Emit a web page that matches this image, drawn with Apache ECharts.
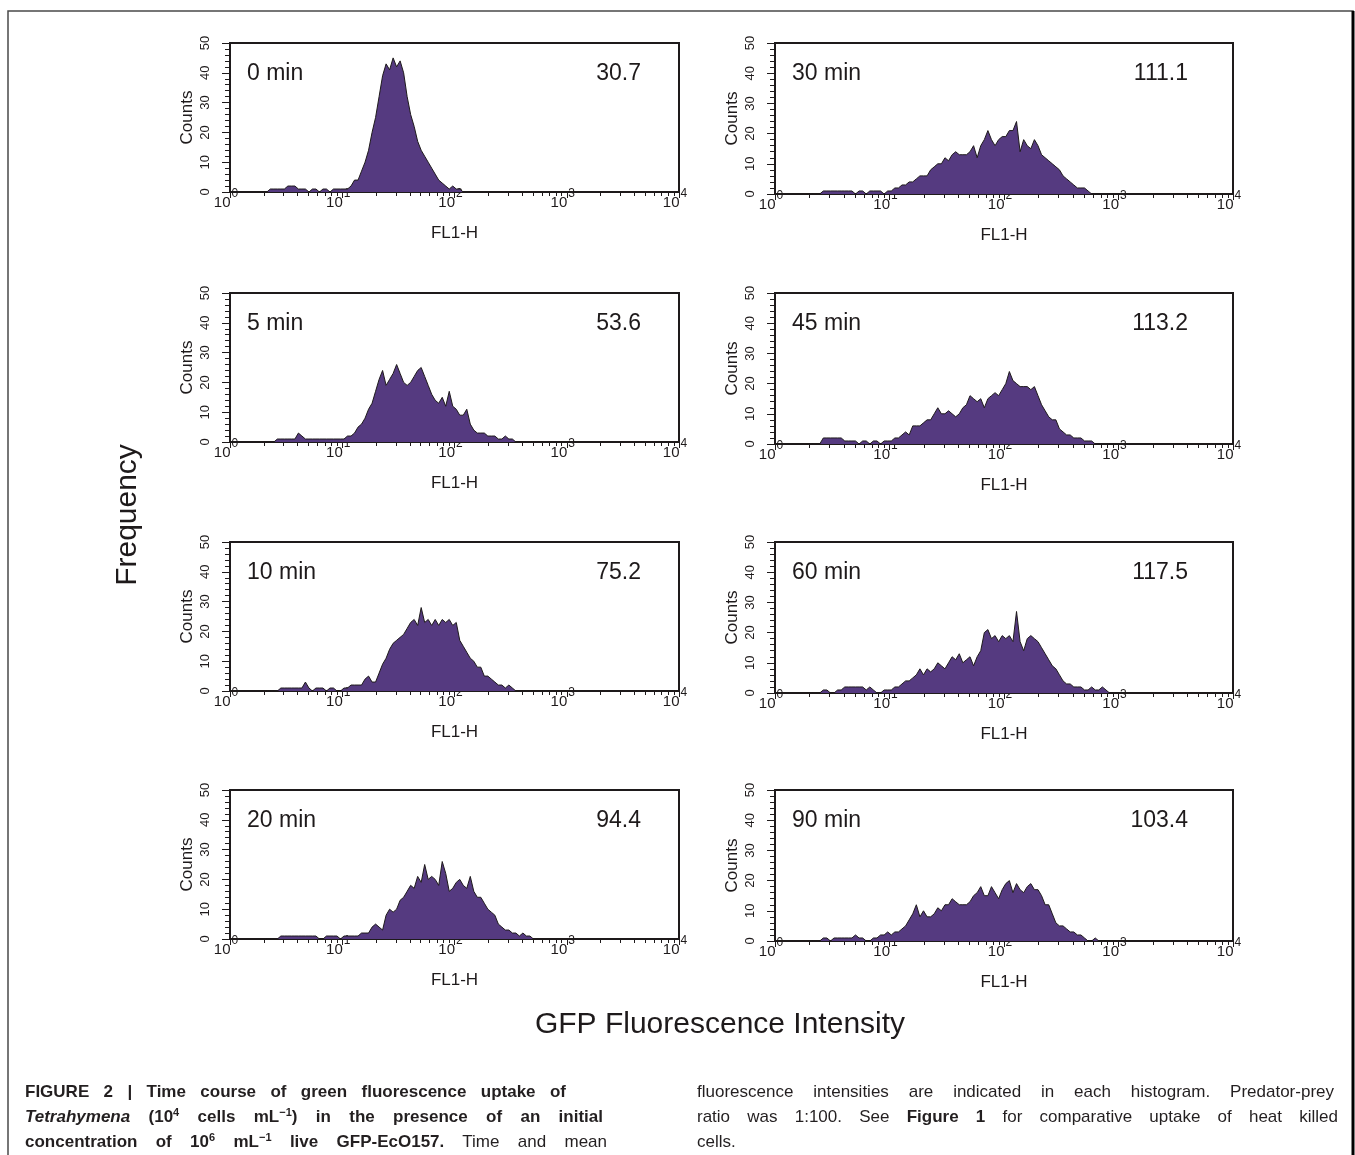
<!DOCTYPE html>
<html>
<head>
<meta charset="utf-8">
<script src="https://cdn.jsdelivr.net/npm/echarts@6/dist/echarts.min.js"></script>
<style>
  html, body { margin: 0; padding: 0; background: #fff; }
  #chart { position: absolute; left: 0; top: 0; width: 1355px; height: 1155px; }
  .cap {
    position: absolute; height: 25px; line-height: 25px;
    font-family: 'Liberation Sans Narrow', 'Liberation Sans', Arial, sans-serif;
    font-size: 17px; color: #231f20;
    text-align: justify; text-align-last: justify;
  }
  .cap sup { font-size: 11px; line-height: 0; vertical-align: 6px; }
  .b { font-weight: bold; }
</style>
</head>
<body>
<div id="chart"></div>

<div class="cap b" style="left:25px; top:1079px; width:541px;">FIGURE 2 | Time course of green fluorescence uptake of</div>
<div class="cap b" style="left:25px; top:1104px; width:578px;"><i>Tetrahymena</i> (10<sup>4</sup> cells mL<sup>&minus;1</sup>) in the presence of an initial</div>
<div class="cap" style="left:25px; top:1129px; width:582px;"><b>concentration of 10<sup>6</sup> mL<sup>&minus;1</sup> live GFP-EcO157.</b> Time and mean</div>
<div class="cap" style="left:697px; top:1079px; width:637px;">fluorescence intensities are indicated in each histogram. Predator-prey</div>
<div class="cap" style="left:697px; top:1104px; width:641px;">ratio was 1:100. See <b>Figure 1</b> for comparative uptake of heat killed</div>
<div class="cap" style="left:697px; top:1129px; width:200px; text-align:left; text-align-last:left;">cells.</div>

<script>
// panel labels
const panelTimes = ['0 min', '5 min', '10 min', '20 min', '30 min', '45 min', '60 min', '90 min'];
const panelMeans = ['30.7', '53.6', '75.2', '94.4', '111.1', '113.2', '117.5', '103.4'];

// x tick labels (10^n) and minor tick multipliers
const decadeExponents = ['0', '1', '2', '3', '4'];
const minorMultipliers = [2, 3, 4, 5, 6, 7, 8, 9];

// histogram channels: 32 bins per decade, first bin = 10 (about 2.05)
const BINS_PER_DECADE = 32;
const FIRST_BIN = 10;

// counts per bin
const counts0 = [0, 1, 1, 1, 1, 1, 2, 2, 2, 1, 1, 1, 0, 1, 1, 0, 1, 1, 0, 1,
  1, 1, 1, 1, 2, 4, 4, 7, 10, 14, 20, 25, 32, 39, 43, 41, 45, 42, 44, 40,
  32, 26, 22, 17, 14, 12, 10, 8, 6, 4, 3, 2, 1, 2, 1, 1];
const counts5 = [0, 0, 0, 1, 1, 1, 1, 1, 1, 3, 2, 1, 1, 1, 1, 1, 1, 1, 1, 1,
  1, 1, 1, 2, 2, 3, 5, 6, 8, 11, 13, 17, 21, 24, 19, 21, 23, 26, 23, 20,
  19, 20, 22, 24, 25, 22, 19, 16, 14, 13, 15, 12, 17, 12, 11, 9, 9, 11, 6, 4,
  3, 3, 3, 2, 2, 2, 1, 1, 2, 1, 1];
const counts10 = [0, 0, 0, 0, 1, 1, 1, 1, 1, 1, 1, 3, 1, 0, 1, 1, 1, 0, 1, 1,
  0, 0, 1, 1, 2, 2, 2, 2, 4, 5, 3, 3, 6, 9, 11, 14, 16, 17, 18, 19,
  21, 23, 24, 22, 28, 23, 24, 22, 24, 22, 24, 23, 24, 22, 23, 17, 15, 13, 11, 10,
  8, 8, 5, 5, 4, 3, 2, 2, 1, 2, 1];
const counts20 = [0, 0, 0, 0, 1, 1, 1, 1, 1, 1, 1, 1, 1, 1, 1, 0, 0, 1, 1, 1,
  1, 0, 1, 1, 1, 1, 1, 2, 2, 2, 4, 5, 4, 3, 8, 10, 9, 10, 13, 14,
  16, 18, 17, 21, 19, 25, 20, 21, 20, 18, 26, 22, 16, 17, 19, 20, 18, 17, 21, 16,
  14, 14, 12, 10, 9, 8, 5, 4, 3, 3, 2, 2, 1, 2, 1, 1];
const counts30 = [0, 0, 0, 1, 1, 1, 1, 1, 1, 1, 1, 1, 0, 1, 1, 0, 1, 1, 1, 1,
  0, 1, 1, 2, 2, 3, 3, 4, 4, 5, 6, 6, 6, 8, 9, 10, 10, 12, 11, 13,
  14, 13, 13, 13, 14, 16, 12, 16, 18, 21, 18, 16, 18, 19, 19, 21, 21, 24, 14, 18,
  16, 15, 18, 16, 13, 12, 11, 10, 9, 8, 6, 5, 4, 3, 2, 2, 2, 1];
const counts45 = [0, 0, 0, 2, 2, 2, 2, 2, 2, 1, 1, 1, 1, 0, 1, 1, 0, 1, 1, 0,
  1, 1, 1, 2, 2, 3, 4, 3, 6, 6, 6, 7, 8, 8, 10, 12, 10, 10, 11, 10,
  9, 10, 12, 13, 16, 15, 14, 15, 12, 15, 16, 17, 16, 18, 20, 24, 21, 20, 19, 19,
  19, 18, 19, 16, 13, 11, 9, 8, 8, 5, 4, 3, 3, 2, 2, 2, 1, 1, 1];
const counts60 = [0, 0, 0, 1, 1, 0, 0, 1, 1, 2, 2, 2, 2, 2, 2, 1, 2, 1, 0, 0,
  1, 1, 1, 2, 2, 3, 4, 4, 5, 6, 8, 6, 8, 7, 8, 10, 9, 8, 10, 12,
  11, 13, 10, 11, 12, 9, 12, 14, 20, 21, 18, 19, 17, 19, 18, 19, 17, 27, 17, 14,
  18, 19, 18, 17, 15, 13, 11, 9, 8, 6, 4, 3, 3, 2, 2, 2, 1, 1, 2, 1,
  1, 2, 1];
const counts90 = [0, 0, 0, 1, 1, 0, 1, 1, 1, 1, 1, 1, 2, 1, 1, 0, 0, 1, 1, 2,
  2, 3, 2, 3, 3, 4, 5, 7, 9, 12, 8, 10, 8, 8, 9, 11, 10, 12, 12, 14,
  13, 12, 12, 12, 13, 15, 16, 18, 15, 15, 18, 16, 14, 17, 19, 20, 16, 19, 17, 16,
  18, 19, 17, 17, 15, 12, 12, 9, 6, 5, 5, 4, 3, 3, 2, 2, 1, 0, 0, 1];

const panelCounts = [counts0, counts5, counts10, counts20, counts30, counts45, counts60, counts90];

const ink = '#1e1a1b';
const purple = '#553a80';
const narrow = "'Liberation Sans Narrow', 'Liberation Sans', Arial, sans-serif";
const sans = "'Liberation Sans', Arial, sans-serif";

const chart = echarts.init(document.getElementById('chart'));

const colLeft = [230, 775];
const colWidth = [449, 458];
const colHeight = [149, 151];
const rowTop = [43, 293, 542, 790];

const minorLogs = [];
for (let d = 0; d < 4; d += 1) {
  minorMultipliers.forEach((m) => { minorLogs.push(d + Math.log10(m)); });
}

const grids = [];
const xMain = [];
const xMinor = [];
const yAxes = [];
const series = [];
const graphics = [
  { // figure frame
    type: 'rect', silent: true, z: -10,
    shape: { x: 8, y: 11, width: 1345, height: 1170 },
    style: { fill: 'none', stroke: '#4a4a4a', lineWidth: 1.5 },
  },
  {
    type: 'line', silent: true, z: -10,
    shape: { x1: 1353, y1: 11, x2: 1353, y2: 1155 },
    style: { stroke: '#000', lineWidth: 3 },
  },
  {
    type: 'text', x: 128, y: 515, rotation: Math.PI / 2,
    style: { text: 'Frequency', fontSize: 30, fontFamily: sans, fill: ink, align: 'center', verticalAlign: 'middle' },
  },
  {
    type: 'text', x: 720, y: 1025,
    style: { text: 'GFP Fluorescence Intensity', fontSize: 30, fontFamily: sans, fill: ink, align: 'center', verticalAlign: 'middle' },
  },
];

panelCounts.forEach((counts, g) => {
  const col = g < 4 ? 0 : 1;
  const row = g % 4;
  const left = colLeft[col];
  const top = rowTop[row];
  const width = colWidth[col];
  const height = colHeight[col];

  grids.push({
    left, top, width, height,
    show: true, borderColor: ink, borderWidth: 2, z: 3,
  });

  xMain.push({
    type: 'log', logBase: 10, min: 1, max: 10000, gridIndex: g, position: 'bottom',
    name: 'FL1-H', nameLocation: 'middle', nameGap: 33,
    nameTextStyle: { fontFamily: sans, fontSize: 17, color: ink },
    axisLine: { show: false },
    axisTick: { show: true, length: 6, lineStyle: { color: ink, width: 1 } },
    splitLine: { show: false },
    axisLabel: {
      margin: -4,
      padding: [0, 8, 0, 0],
      showMinLabel: true,
      showMaxLabel: true,
      color: ink,
      formatter: (v) => '{b|10}{s|' + decadeExponents[Math.round(Math.log10(v))] + '}',
      rich: {
        b: { fontSize: 15, fontFamily: narrow, color: ink, verticalAlign: 'bottom' },
        s: { fontSize: 12, fontFamily: narrow, color: ink, verticalAlign: 'top', padding: [0, 0, 10, 1] },
      },
    },
  });

  xMinor.push({
    type: 'value', min: 0, max: 4, gridIndex: g, position: 'bottom',
    axisLine: { show: false },
    axisLabel: { show: false },
    splitLine: { show: false },
    axisTick: { show: true, length: 4, customValues: minorLogs, lineStyle: { color: ink, width: 1 } },
  });

  yAxes.push({
    type: 'value', min: 0, max: 50, interval: 10, gridIndex: g,
    name: 'Counts', nameLocation: 'middle', nameRotate: 90, nameGap: 34,
    nameTextStyle: { fontFamily: sans, fontSize: 17, color: ink },
    axisLine: { show: false },
    axisTick: { show: true, length: 8, lineStyle: { color: ink, width: 1 } },
    minorTick: { show: true, splitNumber: 5, length: 5, lineStyle: { color: ink, width: 1 } },
    splitLine: { show: false },
    minorSplitLine: { show: false },
    axisLabel: { rotate: 90, margin: 18, fontSize: 13, fontFamily: narrow, color: ink, showMaxLabel: true, showMinLabel: true },
  });

  // each count sits at the centre of its channel bin
  const data = [[1, 0]];
  counts.forEach((c, i) => {
    data.push([Math.pow(10, (FIRST_BIN + i + 0.5) / BINS_PER_DECADE), c]);
  });
  data.push([Math.pow(10, (FIRST_BIN + counts.length + 0.5) / BINS_PER_DECADE), 0]);
  data.push([10000, 0]);

  series.push({
    name: panelTimes[g],
    type: 'line',
    xAxisIndex: g,
    yAxisIndex: g,
    symbol: 'none',
    silent: true,
    data,
    lineStyle: { color: ink, width: 1 },
    areaStyle: { color: purple, opacity: 1 },
  });

  graphics.push({
    type: 'text', x: left + 17, y: top + 31,
    style: { text: panelTimes[g], fontSize: 23, fontFamily: sans, fill: ink, align: 'left', verticalAlign: 'middle' },
  });
  graphics.push({
    type: 'text', x: left + width - (col ? 45 : 38), y: top + 31,
    style: { text: panelMeans[g], fontSize: 23, fontFamily: sans, fill: ink, align: 'right', verticalAlign: 'middle' },
  });
});

chart.setOption({
  animation: false,
  backgroundColor: '#fff',
  textStyle: { fontFamily: sans },
  grid: grids,
  xAxis: xMain.concat(xMinor),
  yAxis: yAxes,
  series,
  graphic: graphics,
});
</script>
</body>
</html>
